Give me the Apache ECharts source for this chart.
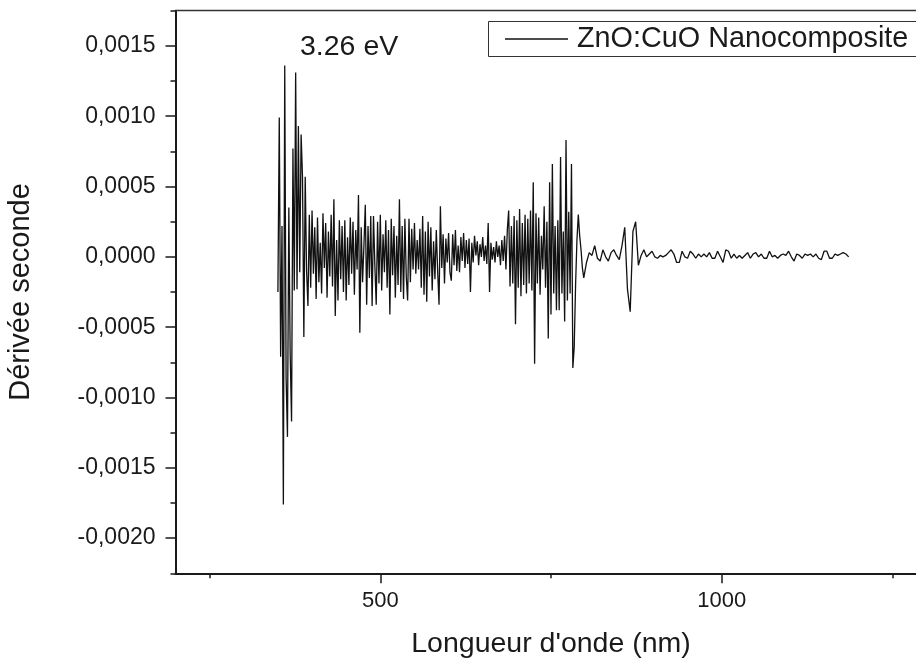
<!DOCTYPE html>
<html><head><meta charset="utf-8">
<script src="https://cdn.jsdelivr.net/npm/echarts@6/dist/echarts.min.js"></script>
<style>html,body{margin:0;padding:0;background:#fff}#c{width:916px;height:664px}</style>
</head><body><div id="c"></div>
<script>
// ---- data: [wavelength (nm), second derivative] ----
const edgeRegion = [[350,-0.00025],[352,0.00099],[354,-0.00071],[356,0.00022],[358,-0.00176],[360,0.00136],[362,-0.00086],[364,-0.00128],[366,0.00035],[368,-0.00070],[370,-0.00117],[372,0.00077],[374,-0.00024],[376,0.00131],[378,-0.00023],[380,0.00093],[382,-0.00011],[384,0.00087],[386,0.00057],[388,-0.00057],[390,0.00057]];
const blueRegion = [[392,-0.00010],[394,-0.00035],[396,0.00030],[398,-0.00022],[400,0.00033],[402,-0.00012],[404,0.00021],[406,-0.00030],[408,0.00028],[410,-0.00018],[412,0.00010],[414,-0.00026],[416,0.00031],[418,-0.00008],[420,0.00024],[422,-0.00029],[424,0.00018],[426,-0.00014],[428,0.00030],[430,-0.00021],[432,0.00041],[434,-0.00042],[436,0.00012],[438,-0.00031],[440,0.00026],[442,-0.00016],[444,0.00022],[446,-0.00025],[448,0.00026],[450,-0.00031],[452,0.00014],[454,-0.00020],[456,0.00028],[458,-0.00012],[460,0.00025],[462,-0.00027],[464,0.00019],[466,-0.00009],[468,0.00044],[470,-0.00054],[472,0.00021],[474,-0.00018],[476,0.00008],[478,0.00037],[480,-0.00034],[482,0.00022],[484,-0.00015],[486,0.00029],[488,-0.00035],[490,0.00029],[492,-0.00006],[494,-0.00034],[496,0.00025],[498,-0.00019],[500,0.00030],[502,-0.00024],[504,0.00016],[506,-0.00011],[508,0.00026],[510,-0.00022],[512,0.00019],[514,-0.00041],[516,0.00027],[518,-0.00013],[520,0.00022],[522,-0.00029],[524,0.00015],[526,-0.00020],[528,0.00041]];
const greenRegion = [[530,-0.00025],[532,0.00022],[534,-0.00030],[536,0.00027],[538,-0.00014],[540,-0.00031],[542,0.00027],[544,-0.00018],[546,0.00020],[548,-0.00009],[550,0.00024],[552,-0.00012],[554,0.00012],[556,-0.00009],[558,0.00020],[560,-0.00022],[562,0.00029],[564,-0.00027],[566,0.00018],[568,-0.00032],[570,0.00025],[572,-0.00014],[574,0.00021],[576,-0.00024],[578,0.00011],[580,-0.00016],[582,0.00019],[584,-0.00010],[586,-0.00034],[588,0.00036],[590,-0.00008],[592,0.00016],[594,-0.00019],[596,0.00013],[598,-0.00004],[600,0.00017],[602,-0.00011],[604,-0.00017],[606,0.00016],[608,-0.00006],[610,0.00019],[612,-0.00010],[614,0.00008],[616,-0.00011],[618,0.00014],[620,-0.00003],[622,0.00017],[624,-0.00008],[626,0.00012],[628,-0.00005],[630,0.00013],[632,-0.00025],[634,0.00010],[636,-0.00004],[638,0.00015],[640,0.00001],[642,0.00011],[644,-0.00006],[646,0.00009],[648,0.00000],[650,0.00014],[652,-0.00003],[654,0.00008],[656,-0.00005]];
const redRegion = [[658,0.00024],[660,-0.00025],[662,0.00010],[664,-0.00002],[666,0.00007],[668,-0.00004],[670,0.00011],[672,0.00000],[674,0.00008],[676,-0.00006],[678,0.00012],[680,-0.00003],[682,0.00015],[684,-0.00009],[686,0.00019],[688,0.00033],[690,-0.00021],[692,0.00022],[694,-0.00019],[696,0.00029],[698,-0.00048],[700,0.00026],[702,-0.00022],[704,0.00034],[706,-0.00028],[708,0.00024],[710,-0.00020],[712,0.00030],[714,-0.00026],[716,0.00027],[718,-0.00019],[720,0.00033],[722,-0.00024],[724,0.00053],[726,-0.00076],[728,0.00031],[730,-0.00019],[732,0.00028],[734,-0.00027],[736,0.00015],[738,-0.00009],[740,0.00036],[742,-0.00022],[744,0.00025],[746,-0.00058],[748,0.00053],[750,-0.00041],[752,0.00066],[754,-0.00026],[756,0.00022],[758,-0.00038],[760,0.00026],[762,-0.00038],[764,0.00071],[766,-0.00026],[768,0.00018],[770,-0.00046],[772,0.00083],[774,-0.00031],[776,0.00032],[778,-0.00026],[780,0.00066],[782,-0.00079],[784,-0.00064],[786,-0.00020],[788,0.00012],[790,0.00030],[792,0.00015],[794,0.00005],[796,-0.00008]];
const nirRegion = [[798,-0.00015],[802,-0.00004],[806,0.00003],[810,0.00001],[814,0.00008],[818,-0.00001],[822,-0.00003],[826,0.00005],[830,0.00000],[834,-0.00003],[838,0.00003],[842,0.00005],[846,0.00001],[850,-0.00002],[854,0.00008],[858,0.00021],[862,-0.00023],[866,-0.00039],[870,0.00018],[874,0.00025],[878,-0.00006],[882,0.00001],[886,0.00005],[890,0.00000],[894,0.00002],[898,0.00004],[902,0.00000],[906,-0.00001],[910,0.00001],[914,0.00000],[918,0.00001],[922,0.00003],[926,0.00005],[930,0.00002],[934,-0.00004],[938,-0.00004],[942,0.00004],[946,0.00000],[950,-0.00001],[954,0.00004],[958,0.00002],[962,-0.00001],[966,0.00002],[970,0.00000],[974,0.00002],[978,0.00000],[982,0.00003],[986,-0.00001],[990,-0.00001],[994,0.00004],[998,0.00000],[1002,-0.00004],[1006,0.00005],[1010,0.00004],[1014,-0.00001],[1018,0.00002],[1022,-0.00001],[1026,0.00001],[1030,-0.00001],[1034,0.00001],[1038,0.00003],[1042,-0.00001],[1046,0.00002],[1050,0.00003],[1054,0.00000],[1058,0.00002],[1062,-0.00001],[1066,-0.00001],[1070,0.00004],[1074,0.00000],[1078,0.00001],[1082,-0.00001],[1086,0.00001],[1090,0.00002],[1094,0.00001],[1098,0.00004],[1102,0.00000],[1106,-0.00003],[1110,0.00002],[1114,0.00001],[1118,-0.00001],[1122,0.00002],[1126,0.00001],[1130,0.00002],[1134,0.00000],[1138,0.00002],[1142,-0.00001],[1146,-0.00002],[1150,0.00004],[1154,0.00004],[1158,-0.00001],[1162,-0.00001],[1166,0.00002],[1170,0.00001],[1174,0.00002],[1178,0.00003],[1182,0.00002],[1186,0.00000]];

const seriesName = 'ZnO:CuO Nanocomposite';
const annotationText = '3.26 eV';
const xAxisTitle = "Longueur d'onde (nm)";
const yAxisTitle = 'Dérivée seconde';
const xMajorTicks = [500, 1000];
const xMinorTicks = [250, 750, 1250];
const yMajorTicks = [-0.002, -0.0015, -0.001, -0.0005, 0, 0.0005, 0.001, 0.0015];

// ---- layout ----
const W = 916, H = 664;
const X_MIN = 200, X_MAX = 1300, Y_MIN = -0.00225, Y_MAX = 0.00175;
const P = {l: 175.5, t: 10.7, r: 926.5, b: 573.3};
const xPx = v => P.l + (v - X_MIN) / (X_MAX - X_MIN) * (P.r - P.l);
const yPx = v => P.t + (Y_MAX - v) / (Y_MAX - Y_MIN) * (P.b - P.t);
const FONT = '"Liberation Sans", Arial, Helvetica, sans-serif';
const INK = '#1a1a1a';
const LEG = {x: 488.5, y: 21.5, h: 35};

const chart = echarts.init(document.getElementById('c'), null, {renderer: 'canvas', width: W, height: H});

const grids = [
  {left: P.l, top: P.t, right: W - P.r, bottom: H - P.b},
  {left: xPx(250), right: W - xPx(1250), top: P.t, bottom: H - P.b},
  {left: xPx(500), right: W - xPx(1000), top: P.t, bottom: H - P.b},
  {left: P.l, width: 100, top: yPx(0.0015), bottom: H - yPx(-0.002)}
].map(g => Object.assign({containLabel: false, outerBoundsMode: 'none', show: false}, g));

const hidden = (gi) => ({gridIndex: gi, show: false, type: 'value', min: 0, max: 1});

chart.setOption({
  animation: false,
  backgroundColor: '#fff',
  textStyle: {fontFamily: FONT},
  title: {
    text: annotationText, left: 300, top: 33, padding: 0,
    textStyle: {fontSize: 28.5, fontWeight: 'normal', color: INK, fontFamily: FONT}
  },
  graphic: [{
    type: 'rect', silent: true, z: 0,
    shape: {x: LEG.x, y: LEG.y, width: 480, height: LEG.h},
    style: {fill: 'none', stroke: '#333', lineWidth: 1}
  }],
  legend: {
    data: [seriesName], left: LEG.x, top: LEG.y, orient: 'horizontal',
    icon: 'rect', itemWidth: 63, itemHeight: 1.3,
    padding: [3, 0, 3, 16.5],
    borderWidth: 0, selectedMode: false,
    itemStyle: {color: '#111'},
    textStyle: {fontSize: 28.8, color: INK, fontFamily: FONT, lineHeight: 29, padding: [0, 0, 0, 4]}
  },
  grid: grids,
  xAxis: [
    {gridIndex: 0, type: 'value', position: 'bottom', min: X_MIN, max: X_MAX,
     axisLine: {show: true, onZero: false, lineStyle: {color: INK, width: 2}}, axisTick: {show: false},
     axisLabel: {show: false}, splitLine: {show: false},
     name: xAxisTitle, nameLocation: 'middle', nameGap: 56,
     nameTextStyle: {fontSize: 28.5, color: INK, fontFamily: FONT}},
    {gridIndex: 0, type: 'value', position: 'top', min: X_MIN, max: X_MAX,
     axisLine: {show: true, onZero: false, lineStyle: {color: '#333', width: 1.3}}, axisTick: {show: false},
     axisLabel: {show: false}, splitLine: {show: false}},
    {gridIndex: 1, type: 'value', position: 'bottom', min: xMinorTicks[0], max: xMinorTicks[xMinorTicks.length - 1], interval: 250,
     axisLine: {show: false, onZero: false}, axisTick: {show: true, length: 5, lineStyle: {color: INK, width: 1.5}},
     axisLabel: {show: false}, splitLine: {show: false}},
    {gridIndex: 2, type: 'value', position: 'bottom', min: xMajorTicks[0], max: xMajorTicks[1], interval: 500,
     axisLine: {show: false, onZero: false}, axisTick: {show: true, length: 10, lineStyle: {color: INK, width: 1.5}},
     axisLabel: {show: true, fontSize: 22, color: INK, fontFamily: FONT, margin: 17, showMinLabel: true, showMaxLabel: true,
       formatter: v => String(Math.round(v))},
     splitLine: {show: false}},
    hidden(3)
  ],
  yAxis: [
    {gridIndex: 0, type: 'value', position: 'left', min: Y_MIN, max: Y_MAX, interval: 0.00025,
     axisLine: {show: true, onZero: false, lineStyle: {color: INK, width: 2}},
     axisTick: {show: true, length: 5, lineStyle: {color: INK, width: 1.5}},
     axisLabel: {show: false}, splitLine: {show: false},
     name: yAxisTitle, nameLocation: 'middle', nameGap: 140, nameRotate: 90,
     nameTextStyle: {fontSize: 29, color: INK, fontFamily: FONT}},
    hidden(1),
    hidden(2),
    {gridIndex: 3, type: 'value', position: 'left', min: yMajorTicks[0], max: yMajorTicks[yMajorTicks.length - 1], interval: 0.0005,
     axisLine: {show: false, onZero: false},
     axisTick: {show: true, length: 10, lineStyle: {color: INK, width: 1.5}},
     axisLabel: {show: true, fontSize: 23, color: INK, fontFamily: FONT, margin: 20, showMinLabel: true, showMaxLabel: true,
       formatter: v => v.toFixed(4).replace('.', ',').replace(/^-0,0000$/, '0,0000')},
     splitLine: {show: false}}
  ],
  series: [{
    name: seriesName, type: 'line', xAxisIndex: 0, yAxisIndex: 0,
    data: [].concat(edgeRegion, blueRegion, greenRegion, redRegion, nirRegion),
    symbol: 'none', showSymbol: false, clip: true,
    lineStyle: {color: '#111', width: 1.3}, itemStyle: {color: '#111'}
  }]
});
</script></body></html>
